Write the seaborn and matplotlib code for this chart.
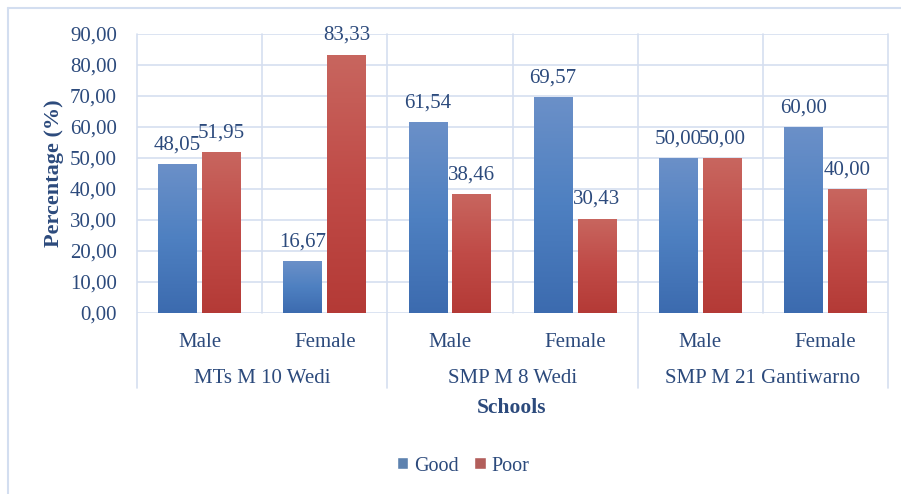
import matplotlib
matplotlib.use("Agg")
import numpy as np
import pandas as pd
import seaborn as sns
import matplotlib.pyplot as plt
from matplotlib.lines import Line2D
from matplotlib.colors import LinearSegmentedColormap
from matplotlib.ticker import FuncFormatter
from matplotlib.transforms import blended_transform_factory

# --- data -------------------------------------------------------------
schools = ["MTs M 10 Wedi", "SMP M 8 Wedi", "SMP M 21 Gantiwarno"]
genders = ["Male", "Female"]
statuses = ["Good", "Poor"]
good = [48.05, 16.67, 61.54, 69.57, 50.00, 60.00]
poor = [51.95, 83.33, 38.46, 30.43, 50.00, 40.00]
y_ticks = [0, 10, 20, 30, 40, 50, 60, 70, 80, 90]

slots, slot_gender, slot_school = [], [], []
for s in schools:
    for g in genders:
        slots.append(f"{s} | {g}")
        slot_gender.append(g)
        slot_school.append(s)

df = pd.DataFrame({
    "slot": slots * 2,
    "status": ["Good"] * len(slots) + ["Poor"] * len(slots),
    "value": good + poor,
})

# --- style ------------------------------------------------------------
sns.set_theme(style="white")
plt.rcParams["font.family"] = ["Liberation Serif", "DejaVu Serif"]
text_c = "#2C4A7C"
grid_c = "#D5DFF0"
base_colors = {"Good": "#4F81BD", "Poor": "#C0504D"}
ramps = {
    "Good": LinearSegmentedColormap.from_list("good", ["#3C6BAF", "#4E80C1", "#6B90C8"]),
    "Poor": LinearSegmentedColormap.from_list("poor", ["#B43A36", "#C04B47", "#C8665F"]),
}

fig = plt.figure(figsize=(9.01, 4.94), dpi=100)
ax = fig.add_axes([137 / 901, 1 - 313 / 494, (888 - 137) / 901, 279 / 494])

sns.barplot(data=df, x="slot", y="value", hue="status", order=slots,
            hue_order=statuses, palette=base_colors, width=0.7, gap=0.115,
            errorbar=None, ax=ax, legend=True)

# vertical gradient fill for each bar, clipped to the bar itself
grad = np.linspace(0, 1, 256).reshape(-1, 1)
for status, cont in zip(statuses, ax.containers):
    for bar in cont:
        x0, y0 = bar.get_xy()
        w, h = bar.get_width(), bar.get_height()
        img = ax.imshow(grad, extent=(x0, x0 + w, y0, y0 + h), origin="lower",
                        aspect="auto", cmap=ramps[status], zorder=2,
                        interpolation="nearest")
        img.set_clip_path(bar)
        bar.set_facecolor("none")
        bar.set_edgecolor("none")
        bar.set_zorder(3)
    vals = [b.get_height() for b in cont]
    ax.bar_label(cont, labels=[f"{v:.2f}".replace(".", ",") for v in vals],
                 padding=7, fontsize=15, color=text_c)

ax.set_xlim(-0.5, len(slots) - 0.5)
ax.set_ylim(0, 90)
ax.set_yticks(y_ticks)
ax.yaxis.set_major_formatter(FuncFormatter(lambda v, p: f"{v:.2f}".replace(".", ",")))
ax.yaxis.grid(True, color=grid_c, linewidth=1.2)
ax.set_axisbelow(True)
for sp in ax.spines.values():
    sp.set_visible(False)

ax.tick_params(axis="y", length=0, pad=14.4, labelsize=15, labelcolor=text_c)
ax.set_xticks(range(len(slots)))
ax.set_xticklabels(slot_gender)
ax.tick_params(axis="x", length=0, pad=24.5, labelsize=15, labelcolor=text_c)
for t in ax.get_xticklabels():
    t.set_verticalalignment("baseline")
ax.set_xlabel("")
ax.set_ylabel("")

# category separators; school boundaries run down through the label rows
ticks = ax.get_xticks()
bounds = [ticks[0] - 0.5] + [t + 0.5 for t in ticks]
for i, b in enumerate(bounds):
    ymin = -0.269 if i % 2 == 0 else 0
    ax.axvline(b, ymin=ymin, ymax=1, color=grid_c, linewidth=1.2,
               clip_on=False, zorder=1)

# school names under the gender labels
trans = blended_transform_factory(ax.transData, ax.transAxes)
for i, s in enumerate(schools):
    mid = (ticks[2 * i] + ticks[2 * i + 1]) / 2
    ax.text(mid, -0.2509, s, transform=trans, ha="center", va="baseline",
            fontsize=15, color=text_c)

fig.text(512 / 901, 1 - 413 / 494, "Schools", ha="center", va="baseline",
         fontsize=15.5, fontweight="bold", color=text_c)
fig.text(54 / 901, 1 - 173 / 494, "Percentage (%)", ha="center", va="center",
         rotation=90, fontsize=16, fontweight="bold", color=text_c)

handles, labels = ax.get_legend_handles_labels()
ax.get_legend().remove()
fig.legend(handles, labels, loc="center", bbox_to_anchor=(463 / 901, 1 - 466 / 494),
           ncol=2, frameon=False, handlelength=0.55, handleheight=0.55,
           handletextpad=0.3, columnspacing=0.8, fontsize=14.5, labelcolor=text_c)

# chart frame
fig.add_artist(Line2D([8 / 901, 8 / 901], [0, 1 - 8 / 494], transform=fig.transFigure,
                      color="#D3DEF0", linewidth=1.5))
fig.add_artist(Line2D([8 / 901, 1], [1 - 8 / 494, 1 - 8 / 494], transform=fig.transFigure,
                      color="#D3DEF0", linewidth=1.5))

fig.savefig("out.png", dpi=100)
